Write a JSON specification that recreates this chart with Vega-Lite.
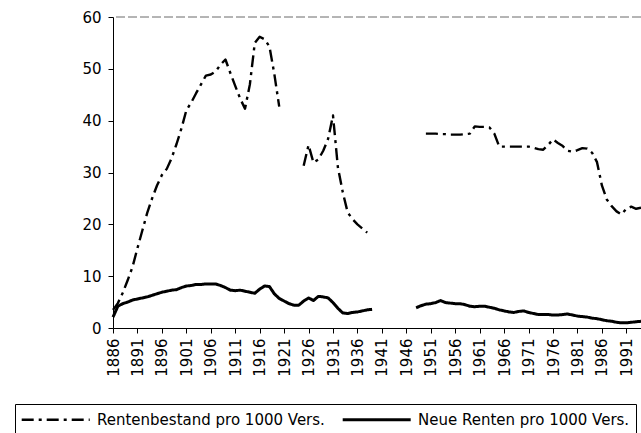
{
  "$schema": "https://vega.github.io/schema/vega-lite/v6.json",
  "width": 528,
  "height": 311,
  "autosize": {"type": "none"},
  "padding": {"left": 113, "top": 17, "right": 0, "bottom": 105},
  "background": "white",
  "config": {
    "font": "DejaVu Sans",
    "view": {"stroke": null},
    "axis": {"labelFont": "DejaVu Sans", "labelFontSize": 15, "labelColor": "black", "domainColor": "black", "tickColor": "black", "grid": false, "domainWidth": 1, "tickWidth": 1}
  },
  "datasets": {
    "serie": [
      {"jahr": 1886, "wert": 3.5, "reihe": "Rentenbestand pro 1000 Vers.", "abschnitt": "R1"},
      {"jahr": 1887, "wert": 4.8, "reihe": "Rentenbestand pro 1000 Vers.", "abschnitt": "R1"},
      {"jahr": 1888, "wert": 6.8, "reihe": "Rentenbestand pro 1000 Vers.", "abschnitt": "R1"},
      {"jahr": 1889, "wert": 9.2, "reihe": "Rentenbestand pro 1000 Vers.", "abschnitt": "R1"},
      {"jahr": 1890, "wert": 11.8, "reihe": "Rentenbestand pro 1000 Vers.", "abschnitt": "R1"},
      {"jahr": 1891, "wert": 15.4, "reihe": "Rentenbestand pro 1000 Vers.", "abschnitt": "R1"},
      {"jahr": 1892, "wert": 18.8, "reihe": "Rentenbestand pro 1000 Vers.", "abschnitt": "R1"},
      {"jahr": 1893, "wert": 22.2, "reihe": "Rentenbestand pro 1000 Vers.", "abschnitt": "R1"},
      {"jahr": 1894, "wert": 25.0, "reihe": "Rentenbestand pro 1000 Vers.", "abschnitt": "R1"},
      {"jahr": 1895, "wert": 27.5, "reihe": "Rentenbestand pro 1000 Vers.", "abschnitt": "R1"},
      {"jahr": 1896, "wert": 29.5, "reihe": "Rentenbestand pro 1000 Vers.", "abschnitt": "R1"},
      {"jahr": 1897, "wert": 30.7, "reihe": "Rentenbestand pro 1000 Vers.", "abschnitt": "R1"},
      {"jahr": 1898, "wert": 32.8, "reihe": "Rentenbestand pro 1000 Vers.", "abschnitt": "R1"},
      {"jahr": 1899, "wert": 35.5, "reihe": "Rentenbestand pro 1000 Vers.", "abschnitt": "R1"},
      {"jahr": 1900, "wert": 38.5, "reihe": "Rentenbestand pro 1000 Vers.", "abschnitt": "R1"},
      {"jahr": 1901, "wert": 42.0, "reihe": "Rentenbestand pro 1000 Vers.", "abschnitt": "R1"},
      {"jahr": 1902, "wert": 43.5, "reihe": "Rentenbestand pro 1000 Vers.", "abschnitt": "R1"},
      {"jahr": 1903, "wert": 45.3, "reihe": "Rentenbestand pro 1000 Vers.", "abschnitt": "R1"},
      {"jahr": 1904, "wert": 47.0, "reihe": "Rentenbestand pro 1000 Vers.", "abschnitt": "R1"},
      {"jahr": 1905, "wert": 48.7, "reihe": "Rentenbestand pro 1000 Vers.", "abschnitt": "R1"},
      {"jahr": 1906, "wert": 48.9, "reihe": "Rentenbestand pro 1000 Vers.", "abschnitt": "R1"},
      {"jahr": 1907, "wert": 49.5, "reihe": "Rentenbestand pro 1000 Vers.", "abschnitt": "R1"},
      {"jahr": 1908, "wert": 50.8, "reihe": "Rentenbestand pro 1000 Vers.", "abschnitt": "R1"},
      {"jahr": 1909, "wert": 51.8, "reihe": "Rentenbestand pro 1000 Vers.", "abschnitt": "R1"},
      {"jahr": 1910, "wert": 49.2, "reihe": "Rentenbestand pro 1000 Vers.", "abschnitt": "R1"},
      {"jahr": 1911, "wert": 46.7, "reihe": "Rentenbestand pro 1000 Vers.", "abschnitt": "R1"},
      {"jahr": 1912, "wert": 44.3, "reihe": "Rentenbestand pro 1000 Vers.", "abschnitt": "R1"},
      {"jahr": 1913, "wert": 42.3, "reihe": "Rentenbestand pro 1000 Vers.", "abschnitt": "R1"},
      {"jahr": 1914, "wert": 47.0, "reihe": "Rentenbestand pro 1000 Vers.", "abschnitt": "R1"},
      {"jahr": 1915, "wert": 55.0, "reihe": "Rentenbestand pro 1000 Vers.", "abschnitt": "R1"},
      {"jahr": 1916, "wert": 56.2, "reihe": "Rentenbestand pro 1000 Vers.", "abschnitt": "R1"},
      {"jahr": 1917, "wert": 55.7, "reihe": "Rentenbestand pro 1000 Vers.", "abschnitt": "R1"},
      {"jahr": 1918, "wert": 54.3, "reihe": "Rentenbestand pro 1000 Vers.", "abschnitt": "R1"},
      {"jahr": 1919, "wert": 49.0, "reihe": "Rentenbestand pro 1000 Vers.", "abschnitt": "R1"},
      {"jahr": 1920, "wert": 42.7, "reihe": "Rentenbestand pro 1000 Vers.", "abschnitt": "R1"},
      {"jahr": 1925, "wert": 31.3, "reihe": "Rentenbestand pro 1000 Vers.", "abschnitt": "R2"},
      {"jahr": 1926, "wert": 35.3, "reihe": "Rentenbestand pro 1000 Vers.", "abschnitt": "R2"},
      {"jahr": 1927, "wert": 31.9, "reihe": "Rentenbestand pro 1000 Vers.", "abschnitt": "R2"},
      {"jahr": 1928, "wert": 32.5, "reihe": "Rentenbestand pro 1000 Vers.", "abschnitt": "R2"},
      {"jahr": 1929, "wert": 34.2, "reihe": "Rentenbestand pro 1000 Vers.", "abschnitt": "R2"},
      {"jahr": 1930, "wert": 36.5, "reihe": "Rentenbestand pro 1000 Vers.", "abschnitt": "R2"},
      {"jahr": 1931, "wert": 41.0, "reihe": "Rentenbestand pro 1000 Vers.", "abschnitt": "R2"},
      {"jahr": 1932, "wert": 31.0, "reihe": "Rentenbestand pro 1000 Vers.", "abschnitt": "R2"},
      {"jahr": 1933, "wert": 26.2, "reihe": "Rentenbestand pro 1000 Vers.", "abschnitt": "R2"},
      {"jahr": 1934, "wert": 22.3, "reihe": "Rentenbestand pro 1000 Vers.", "abschnitt": "R2"},
      {"jahr": 1935, "wert": 21.0, "reihe": "Rentenbestand pro 1000 Vers.", "abschnitt": "R2"},
      {"jahr": 1936, "wert": 20.0, "reihe": "Rentenbestand pro 1000 Vers.", "abschnitt": "R2"},
      {"jahr": 1937, "wert": 19.2, "reihe": "Rentenbestand pro 1000 Vers.", "abschnitt": "R2"},
      {"jahr": 1938, "wert": 18.4, "reihe": "Rentenbestand pro 1000 Vers.", "abschnitt": "R2"},
      {"jahr": 1950, "wert": 37.5, "reihe": "Rentenbestand pro 1000 Vers.", "abschnitt": "R3"},
      {"jahr": 1951, "wert": 37.5, "reihe": "Rentenbestand pro 1000 Vers.", "abschnitt": "R3"},
      {"jahr": 1952, "wert": 37.5, "reihe": "Rentenbestand pro 1000 Vers.", "abschnitt": "R3"},
      {"jahr": 1953, "wert": 37.4, "reihe": "Rentenbestand pro 1000 Vers.", "abschnitt": "R3"},
      {"jahr": 1954, "wert": 37.4, "reihe": "Rentenbestand pro 1000 Vers.", "abschnitt": "R3"},
      {"jahr": 1955, "wert": 37.3, "reihe": "Rentenbestand pro 1000 Vers.", "abschnitt": "R3"},
      {"jahr": 1956, "wert": 37.3, "reihe": "Rentenbestand pro 1000 Vers.", "abschnitt": "R3"},
      {"jahr": 1957, "wert": 37.3, "reihe": "Rentenbestand pro 1000 Vers.", "abschnitt": "R3"},
      {"jahr": 1958, "wert": 37.4, "reihe": "Rentenbestand pro 1000 Vers.", "abschnitt": "R3"},
      {"jahr": 1959, "wert": 37.5, "reihe": "Rentenbestand pro 1000 Vers.", "abschnitt": "R3"},
      {"jahr": 1960, "wert": 38.9, "reihe": "Rentenbestand pro 1000 Vers.", "abschnitt": "R3"},
      {"jahr": 1961, "wert": 38.8, "reihe": "Rentenbestand pro 1000 Vers.", "abschnitt": "R3"},
      {"jahr": 1962, "wert": 38.8, "reihe": "Rentenbestand pro 1000 Vers.", "abschnitt": "R3"},
      {"jahr": 1963, "wert": 38.7, "reihe": "Rentenbestand pro 1000 Vers.", "abschnitt": "R3"},
      {"jahr": 1964, "wert": 37.5, "reihe": "Rentenbestand pro 1000 Vers.", "abschnitt": "R3"},
      {"jahr": 1965, "wert": 35.0, "reihe": "Rentenbestand pro 1000 Vers.", "abschnitt": "R3"},
      {"jahr": 1966, "wert": 35.0, "reihe": "Rentenbestand pro 1000 Vers.", "abschnitt": "R3"},
      {"jahr": 1967, "wert": 35.0, "reihe": "Rentenbestand pro 1000 Vers.", "abschnitt": "R3"},
      {"jahr": 1968, "wert": 35.0, "reihe": "Rentenbestand pro 1000 Vers.", "abschnitt": "R3"},
      {"jahr": 1969, "wert": 35.0, "reihe": "Rentenbestand pro 1000 Vers.", "abschnitt": "R3"},
      {"jahr": 1970, "wert": 35.0, "reihe": "Rentenbestand pro 1000 Vers.", "abschnitt": "R3"},
      {"jahr": 1971, "wert": 35.0, "reihe": "Rentenbestand pro 1000 Vers.", "abschnitt": "R3"},
      {"jahr": 1972, "wert": 34.8, "reihe": "Rentenbestand pro 1000 Vers.", "abschnitt": "R3"},
      {"jahr": 1973, "wert": 34.5, "reihe": "Rentenbestand pro 1000 Vers.", "abschnitt": "R3"},
      {"jahr": 1974, "wert": 34.4, "reihe": "Rentenbestand pro 1000 Vers.", "abschnitt": "R3"},
      {"jahr": 1975, "wert": 35.3, "reihe": "Rentenbestand pro 1000 Vers.", "abschnitt": "R3"},
      {"jahr": 1976, "wert": 36.4, "reihe": "Rentenbestand pro 1000 Vers.", "abschnitt": "R3"},
      {"jahr": 1977, "wert": 35.7, "reihe": "Rentenbestand pro 1000 Vers.", "abschnitt": "R3"},
      {"jahr": 1978, "wert": 35.1, "reihe": "Rentenbestand pro 1000 Vers.", "abschnitt": "R3"},
      {"jahr": 1979, "wert": 34.2, "reihe": "Rentenbestand pro 1000 Vers.", "abschnitt": "R3"},
      {"jahr": 1980, "wert": 34.0, "reihe": "Rentenbestand pro 1000 Vers.", "abschnitt": "R3"},
      {"jahr": 1981, "wert": 34.3, "reihe": "Rentenbestand pro 1000 Vers.", "abschnitt": "R3"},
      {"jahr": 1982, "wert": 34.7, "reihe": "Rentenbestand pro 1000 Vers.", "abschnitt": "R3"},
      {"jahr": 1983, "wert": 34.6, "reihe": "Rentenbestand pro 1000 Vers.", "abschnitt": "R3"},
      {"jahr": 1984, "wert": 33.8, "reihe": "Rentenbestand pro 1000 Vers.", "abschnitt": "R3"},
      {"jahr": 1985, "wert": 32.0, "reihe": "Rentenbestand pro 1000 Vers.", "abschnitt": "R3"},
      {"jahr": 1986, "wert": 27.5, "reihe": "Rentenbestand pro 1000 Vers.", "abschnitt": "R3"},
      {"jahr": 1987, "wert": 24.8, "reihe": "Rentenbestand pro 1000 Vers.", "abschnitt": "R3"},
      {"jahr": 1988, "wert": 23.5, "reihe": "Rentenbestand pro 1000 Vers.", "abschnitt": "R3"},
      {"jahr": 1989, "wert": 22.5, "reihe": "Rentenbestand pro 1000 Vers.", "abschnitt": "R3"},
      {"jahr": 1990, "wert": 21.9, "reihe": "Rentenbestand pro 1000 Vers.", "abschnitt": "R3"},
      {"jahr": 1991, "wert": 23.0, "reihe": "Rentenbestand pro 1000 Vers.", "abschnitt": "R3"},
      {"jahr": 1992, "wert": 23.4, "reihe": "Rentenbestand pro 1000 Vers.", "abschnitt": "R3"},
      {"jahr": 1993, "wert": 23.0, "reihe": "Rentenbestand pro 1000 Vers.", "abschnitt": "R3"},
      {"jahr": 1994, "wert": 23.2, "reihe": "Rentenbestand pro 1000 Vers.", "abschnitt": "R3"},
      {"jahr": 1886, "wert": 2.1, "reihe": "Neue Renten pro 1000 Vers.", "abschnitt": "N1"},
      {"jahr": 1887, "wert": 4.2, "reihe": "Neue Renten pro 1000 Vers.", "abschnitt": "N1"},
      {"jahr": 1888, "wert": 4.7, "reihe": "Neue Renten pro 1000 Vers.", "abschnitt": "N1"},
      {"jahr": 1889, "wert": 5.0, "reihe": "Neue Renten pro 1000 Vers.", "abschnitt": "N1"},
      {"jahr": 1890, "wert": 5.4, "reihe": "Neue Renten pro 1000 Vers.", "abschnitt": "N1"},
      {"jahr": 1891, "wert": 5.6, "reihe": "Neue Renten pro 1000 Vers.", "abschnitt": "N1"},
      {"jahr": 1892, "wert": 5.8, "reihe": "Neue Renten pro 1000 Vers.", "abschnitt": "N1"},
      {"jahr": 1893, "wert": 6.0, "reihe": "Neue Renten pro 1000 Vers.", "abschnitt": "N1"},
      {"jahr": 1894, "wert": 6.3, "reihe": "Neue Renten pro 1000 Vers.", "abschnitt": "N1"},
      {"jahr": 1895, "wert": 6.6, "reihe": "Neue Renten pro 1000 Vers.", "abschnitt": "N1"},
      {"jahr": 1896, "wert": 6.9, "reihe": "Neue Renten pro 1000 Vers.", "abschnitt": "N1"},
      {"jahr": 1897, "wert": 7.1, "reihe": "Neue Renten pro 1000 Vers.", "abschnitt": "N1"},
      {"jahr": 1898, "wert": 7.3, "reihe": "Neue Renten pro 1000 Vers.", "abschnitt": "N1"},
      {"jahr": 1899, "wert": 7.4, "reihe": "Neue Renten pro 1000 Vers.", "abschnitt": "N1"},
      {"jahr": 1900, "wert": 7.8, "reihe": "Neue Renten pro 1000 Vers.", "abschnitt": "N1"},
      {"jahr": 1901, "wert": 8.1, "reihe": "Neue Renten pro 1000 Vers.", "abschnitt": "N1"},
      {"jahr": 1902, "wert": 8.2, "reihe": "Neue Renten pro 1000 Vers.", "abschnitt": "N1"},
      {"jahr": 1903, "wert": 8.4, "reihe": "Neue Renten pro 1000 Vers.", "abschnitt": "N1"},
      {"jahr": 1904, "wert": 8.4, "reihe": "Neue Renten pro 1000 Vers.", "abschnitt": "N1"},
      {"jahr": 1905, "wert": 8.5, "reihe": "Neue Renten pro 1000 Vers.", "abschnitt": "N1"},
      {"jahr": 1906, "wert": 8.5, "reihe": "Neue Renten pro 1000 Vers.", "abschnitt": "N1"},
      {"jahr": 1907, "wert": 8.5, "reihe": "Neue Renten pro 1000 Vers.", "abschnitt": "N1"},
      {"jahr": 1908, "wert": 8.2, "reihe": "Neue Renten pro 1000 Vers.", "abschnitt": "N1"},
      {"jahr": 1909, "wert": 7.8, "reihe": "Neue Renten pro 1000 Vers.", "abschnitt": "N1"},
      {"jahr": 1910, "wert": 7.3, "reihe": "Neue Renten pro 1000 Vers.", "abschnitt": "N1"},
      {"jahr": 1911, "wert": 7.2, "reihe": "Neue Renten pro 1000 Vers.", "abschnitt": "N1"},
      {"jahr": 1912, "wert": 7.3, "reihe": "Neue Renten pro 1000 Vers.", "abschnitt": "N1"},
      {"jahr": 1913, "wert": 7.1, "reihe": "Neue Renten pro 1000 Vers.", "abschnitt": "N1"},
      {"jahr": 1914, "wert": 6.9, "reihe": "Neue Renten pro 1000 Vers.", "abschnitt": "N1"},
      {"jahr": 1915, "wert": 6.7, "reihe": "Neue Renten pro 1000 Vers.", "abschnitt": "N1"},
      {"jahr": 1916, "wert": 7.5, "reihe": "Neue Renten pro 1000 Vers.", "abschnitt": "N1"},
      {"jahr": 1917, "wert": 8.1, "reihe": "Neue Renten pro 1000 Vers.", "abschnitt": "N1"},
      {"jahr": 1918, "wert": 8.0, "reihe": "Neue Renten pro 1000 Vers.", "abschnitt": "N1"},
      {"jahr": 1919, "wert": 6.6, "reihe": "Neue Renten pro 1000 Vers.", "abschnitt": "N1"},
      {"jahr": 1920, "wert": 5.7, "reihe": "Neue Renten pro 1000 Vers.", "abschnitt": "N1"},
      {"jahr": 1921, "wert": 5.2, "reihe": "Neue Renten pro 1000 Vers.", "abschnitt": "N1"},
      {"jahr": 1922, "wert": 4.7, "reihe": "Neue Renten pro 1000 Vers.", "abschnitt": "N1"},
      {"jahr": 1923, "wert": 4.4, "reihe": "Neue Renten pro 1000 Vers.", "abschnitt": "N1"},
      {"jahr": 1924, "wert": 4.4, "reihe": "Neue Renten pro 1000 Vers.", "abschnitt": "N1"},
      {"jahr": 1925, "wert": 5.2, "reihe": "Neue Renten pro 1000 Vers.", "abschnitt": "N1"},
      {"jahr": 1926, "wert": 5.8, "reihe": "Neue Renten pro 1000 Vers.", "abschnitt": "N1"},
      {"jahr": 1927, "wert": 5.3, "reihe": "Neue Renten pro 1000 Vers.", "abschnitt": "N1"},
      {"jahr": 1928, "wert": 6.1, "reihe": "Neue Renten pro 1000 Vers.", "abschnitt": "N1"},
      {"jahr": 1929, "wert": 6.0, "reihe": "Neue Renten pro 1000 Vers.", "abschnitt": "N1"},
      {"jahr": 1930, "wert": 5.8, "reihe": "Neue Renten pro 1000 Vers.", "abschnitt": "N1"},
      {"jahr": 1931, "wert": 4.9, "reihe": "Neue Renten pro 1000 Vers.", "abschnitt": "N1"},
      {"jahr": 1932, "wert": 3.8, "reihe": "Neue Renten pro 1000 Vers.", "abschnitt": "N1"},
      {"jahr": 1933, "wert": 2.9, "reihe": "Neue Renten pro 1000 Vers.", "abschnitt": "N1"},
      {"jahr": 1934, "wert": 2.8, "reihe": "Neue Renten pro 1000 Vers.", "abschnitt": "N1"},
      {"jahr": 1935, "wert": 3.0, "reihe": "Neue Renten pro 1000 Vers.", "abschnitt": "N1"},
      {"jahr": 1936, "wert": 3.1, "reihe": "Neue Renten pro 1000 Vers.", "abschnitt": "N1"},
      {"jahr": 1937, "wert": 3.3, "reihe": "Neue Renten pro 1000 Vers.", "abschnitt": "N1"},
      {"jahr": 1938, "wert": 3.5, "reihe": "Neue Renten pro 1000 Vers.", "abschnitt": "N1"},
      {"jahr": 1939, "wert": 3.6, "reihe": "Neue Renten pro 1000 Vers.", "abschnitt": "N1"},
      {"jahr": 1948, "wert": 3.9, "reihe": "Neue Renten pro 1000 Vers.", "abschnitt": "N3"},
      {"jahr": 1949, "wert": 4.3, "reihe": "Neue Renten pro 1000 Vers.", "abschnitt": "N3"},
      {"jahr": 1950, "wert": 4.6, "reihe": "Neue Renten pro 1000 Vers.", "abschnitt": "N3"},
      {"jahr": 1951, "wert": 4.7, "reihe": "Neue Renten pro 1000 Vers.", "abschnitt": "N3"},
      {"jahr": 1952, "wert": 4.9, "reihe": "Neue Renten pro 1000 Vers.", "abschnitt": "N3"},
      {"jahr": 1953, "wert": 5.3, "reihe": "Neue Renten pro 1000 Vers.", "abschnitt": "N3"},
      {"jahr": 1954, "wert": 4.9, "reihe": "Neue Renten pro 1000 Vers.", "abschnitt": "N3"},
      {"jahr": 1955, "wert": 4.8, "reihe": "Neue Renten pro 1000 Vers.", "abschnitt": "N3"},
      {"jahr": 1956, "wert": 4.7, "reihe": "Neue Renten pro 1000 Vers.", "abschnitt": "N3"},
      {"jahr": 1957, "wert": 4.7, "reihe": "Neue Renten pro 1000 Vers.", "abschnitt": "N3"},
      {"jahr": 1958, "wert": 4.5, "reihe": "Neue Renten pro 1000 Vers.", "abschnitt": "N3"},
      {"jahr": 1959, "wert": 4.2, "reihe": "Neue Renten pro 1000 Vers.", "abschnitt": "N3"},
      {"jahr": 1960, "wert": 4.1, "reihe": "Neue Renten pro 1000 Vers.", "abschnitt": "N3"},
      {"jahr": 1961, "wert": 4.2, "reihe": "Neue Renten pro 1000 Vers.", "abschnitt": "N3"},
      {"jahr": 1962, "wert": 4.2, "reihe": "Neue Renten pro 1000 Vers.", "abschnitt": "N3"},
      {"jahr": 1963, "wert": 4.0, "reihe": "Neue Renten pro 1000 Vers.", "abschnitt": "N3"},
      {"jahr": 1964, "wert": 3.8, "reihe": "Neue Renten pro 1000 Vers.", "abschnitt": "N3"},
      {"jahr": 1965, "wert": 3.5, "reihe": "Neue Renten pro 1000 Vers.", "abschnitt": "N3"},
      {"jahr": 1966, "wert": 3.3, "reihe": "Neue Renten pro 1000 Vers.", "abschnitt": "N3"},
      {"jahr": 1967, "wert": 3.1, "reihe": "Neue Renten pro 1000 Vers.", "abschnitt": "N3"},
      {"jahr": 1968, "wert": 3.0, "reihe": "Neue Renten pro 1000 Vers.", "abschnitt": "N3"},
      {"jahr": 1969, "wert": 3.2, "reihe": "Neue Renten pro 1000 Vers.", "abschnitt": "N3"},
      {"jahr": 1970, "wert": 3.3, "reihe": "Neue Renten pro 1000 Vers.", "abschnitt": "N3"},
      {"jahr": 1971, "wert": 3.0, "reihe": "Neue Renten pro 1000 Vers.", "abschnitt": "N3"},
      {"jahr": 1972, "wert": 2.8, "reihe": "Neue Renten pro 1000 Vers.", "abschnitt": "N3"},
      {"jahr": 1973, "wert": 2.6, "reihe": "Neue Renten pro 1000 Vers.", "abschnitt": "N3"},
      {"jahr": 1974, "wert": 2.6, "reihe": "Neue Renten pro 1000 Vers.", "abschnitt": "N3"},
      {"jahr": 1975, "wert": 2.6, "reihe": "Neue Renten pro 1000 Vers.", "abschnitt": "N3"},
      {"jahr": 1976, "wert": 2.5, "reihe": "Neue Renten pro 1000 Vers.", "abschnitt": "N3"},
      {"jahr": 1977, "wert": 2.5, "reihe": "Neue Renten pro 1000 Vers.", "abschnitt": "N3"},
      {"jahr": 1978, "wert": 2.6, "reihe": "Neue Renten pro 1000 Vers.", "abschnitt": "N3"},
      {"jahr": 1979, "wert": 2.7, "reihe": "Neue Renten pro 1000 Vers.", "abschnitt": "N3"},
      {"jahr": 1980, "wert": 2.5, "reihe": "Neue Renten pro 1000 Vers.", "abschnitt": "N3"},
      {"jahr": 1981, "wert": 2.3, "reihe": "Neue Renten pro 1000 Vers.", "abschnitt": "N3"},
      {"jahr": 1982, "wert": 2.2, "reihe": "Neue Renten pro 1000 Vers.", "abschnitt": "N3"},
      {"jahr": 1983, "wert": 2.1, "reihe": "Neue Renten pro 1000 Vers.", "abschnitt": "N3"},
      {"jahr": 1984, "wert": 1.9, "reihe": "Neue Renten pro 1000 Vers.", "abschnitt": "N3"},
      {"jahr": 1985, "wert": 1.8, "reihe": "Neue Renten pro 1000 Vers.", "abschnitt": "N3"},
      {"jahr": 1986, "wert": 1.6, "reihe": "Neue Renten pro 1000 Vers.", "abschnitt": "N3"},
      {"jahr": 1987, "wert": 1.4, "reihe": "Neue Renten pro 1000 Vers.", "abschnitt": "N3"},
      {"jahr": 1988, "wert": 1.3, "reihe": "Neue Renten pro 1000 Vers.", "abschnitt": "N3"},
      {"jahr": 1989, "wert": 1.1, "reihe": "Neue Renten pro 1000 Vers.", "abschnitt": "N3"},
      {"jahr": 1990, "wert": 1.0, "reihe": "Neue Renten pro 1000 Vers.", "abschnitt": "N3"},
      {"jahr": 1991, "wert": 1.0, "reihe": "Neue Renten pro 1000 Vers.", "abschnitt": "N3"},
      {"jahr": 1992, "wert": 1.1, "reihe": "Neue Renten pro 1000 Vers.", "abschnitt": "N3"},
      {"jahr": 1993, "wert": 1.2, "reihe": "Neue Renten pro 1000 Vers.", "abschnitt": "N3"},
      {"jahr": 1994, "wert": 1.3, "reihe": "Neue Renten pro 1000 Vers.", "abschnitt": "N3"}
    ],
    "oben": [{"grenze": 60}]
  },
  "layer": [
    {
      "data": {"name": "serie"},
      "mark": {"type": "line", "strokeJoin": "round", "strokeCap": "butt", "color": "black"},
      "encoding": {
        "x": {
          "field": "jahr", "type": "quantitative",
          "scale": {"domain": [1886, 1994], "nice": false, "zero": false},
          "axis": {"values": [1886, 1891, 1896, 1901, 1906, 1911, 1916, 1921, 1926, 1931, 1936, 1941, 1946, 1951, 1956, 1961, 1966, 1971, 1976, 1981, 1986, 1991], "format": "d", "labelAngle": -90, "labelAlign": "right", "labelBaseline": "middle", "title": null, "tickSize": 5, "labelPadding": 5, "labelFlush": false, "labelOverlap": false}
        },
        "y": {
          "field": "wert", "type": "quantitative",
          "scale": {"domain": [0, 60], "nice": false},
          "axis": {"values": [0, 10, 20, 30, 40, 50, 60], "title": null, "tickSize": 5, "labelPadding": 7}
        },
        "strokeDash": {
          "field": "reihe", "type": "nominal",
          "scale": {"domain": ["Rentenbestand pro 1000 Vers.", "Neue Renten pro 1000 Vers."], "range": [[12, 5, 3, 5], [1, 0]]},
          "legend": {"title": null, "orient": "none", "legendX": -98, "legendY": 387, "direction": "horizontal", "symbolType": "M-1.1,0H7.4", "symbolSize": 256, "symbolStrokeWidth": 2.2, "symbolStrokeColor": "black", "labelFont": "DejaVu Sans", "labelFontSize": 15, "labelColor": "black", "labelOffset": 57, "columnPadding": 11, "padding": 6, "strokeColor": "black", "labelLimit": 400}
        },
        "strokeWidth": {
          "field": "reihe", "type": "nominal",
          "scale": {"domain": ["Rentenbestand pro 1000 Vers.", "Neue Renten pro 1000 Vers."], "range": [2.4, 3]},
          "legend": null
        },
        "detail": {"field": "abschnitt", "type": "nominal"}
      }
    },
    {
      "data": {"name": "oben"},
      "mark": {"type": "rule", "color": "#444", "strokeWidth": 0.8, "strokeDash": [9, 3]},
      "encoding": {"y": {"field": "grenze", "type": "quantitative"}}
    }
  ]
}
